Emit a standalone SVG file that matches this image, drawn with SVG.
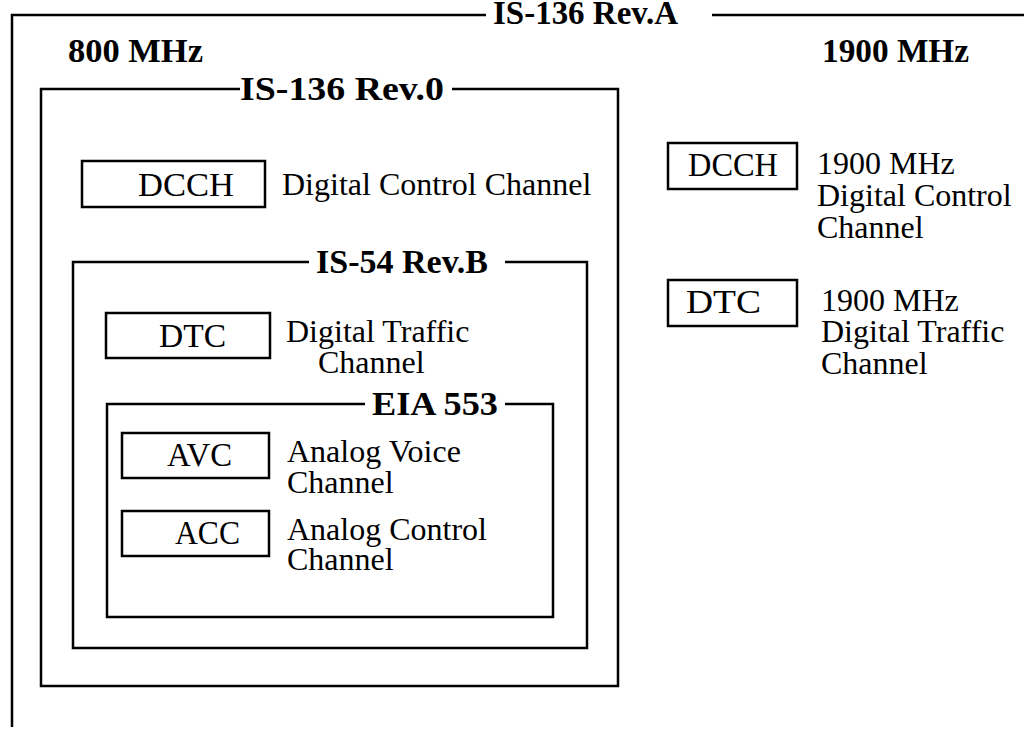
<svg xmlns="http://www.w3.org/2000/svg" width="1024" height="729" viewBox="0 0 1024 729">
  <style>
    .frame { fill: none; stroke: #000; stroke-width: 2.5; }
    .box { fill: none; stroke: #000; stroke-width: 2.5; }
    .title { font-family: "Liberation Serif", "DejaVu Serif", serif; font-weight: bold; font-size: 33px; fill: #000; }
    .lbl { font-family: "Liberation Serif", "DejaVu Serif", serif; font-size: 32px; fill: #000; }
    .code { font-family: "Liberation Serif", "DejaVu Serif", serif; font-size: 33px; fill: #000; }
  </style>
  <rect width="1024" height="729" fill="#fff"/>

  <!-- IS-136 Rev.A outer frame (open on the right and bottom) -->
  <g id="rev-a">
    <path class="frame" d="M12,727 V15 H486 M712,15 H1024"/>
    <text class="title" x="493" y="24" textLength="185" lengthAdjust="spacingAndGlyphs">IS-136 Rev.A</text>
    <text class="title" x="68" y="62" textLength="135" lengthAdjust="spacingAndGlyphs">800 MHz</text>
    <text class="title" x="822" y="62" textLength="147" lengthAdjust="spacingAndGlyphs">1900 MHz</text>
  </g>

  <!-- IS-136 Rev.0 -->
  <g id="rev-0">
    <path class="frame" d="M240,89 H41 V686 H618 V89 H452"/>
    <text class="title" x="240" y="100" font-size="34" textLength="204" lengthAdjust="spacingAndGlyphs">IS-136 Rev.0</text>
  </g>

  <g id="dcch-800">
    <rect class="box" x="82" y="161" width="183" height="46"/>
    <text class="code" x="138" y="196" textLength="96" lengthAdjust="spacingAndGlyphs">DCCH</text>
    <text class="lbl" x="282" y="195">Digital Control Channel</text>
  </g>

  <!-- IS-54 Rev.B -->
  <g id="is54">
    <path class="frame" d="M309,262 H73 V648 H587 V262 H505"/>
    <text class="title" x="316" y="273" textLength="172" lengthAdjust="spacingAndGlyphs">IS-54 Rev.B</text>
  </g>

  <g id="dtc-800">
    <rect class="box" x="106" y="313" width="164" height="45"/>
    <text class="code" x="159" y="347" textLength="67" lengthAdjust="spacingAndGlyphs">DTC</text>
    <text class="lbl" x="286" y="342">Digital Traffic</text>
    <text class="lbl" x="318" y="373">Channel</text>
  </g>

  <!-- EIA 553 -->
  <g id="eia553">
    <path class="frame" d="M365,404 H107 V617 H553 V404 H505"/>
    <text class="title" x="372" y="415" textLength="126" lengthAdjust="spacingAndGlyphs">EIA 553</text>
  </g>

  <g id="avc">
    <rect class="box" x="122" y="433" width="147" height="45"/>
    <text class="code" x="167" y="466" textLength="65" lengthAdjust="spacingAndGlyphs">AVC</text>
    <text class="lbl" x="287" y="462">Analog Voice</text>
    <text class="lbl" x="287" y="493">Channel</text>
  </g>

  <g id="acc">
    <rect class="box" x="122" y="511" width="147" height="45"/>
    <text class="code" x="175" y="544" textLength="65" lengthAdjust="spacingAndGlyphs">ACC</text>
    <text class="lbl" x="287" y="540">Analog Control</text>
    <text class="lbl" x="287" y="570">Channel</text>
  </g>

  <!-- 1900 MHz channels -->
  <g id="dcch-1900">
    <rect class="box" x="668" y="143" width="129" height="46"/>
    <text class="code" x="688" y="176" textLength="90" lengthAdjust="spacingAndGlyphs">DCCH</text>
    <text class="lbl" x="817" y="174">1900 MHz</text>
    <text class="lbl" x="817" y="206">Digital Control</text>
    <text class="lbl" x="817" y="238">Channel</text>
  </g>

  <g id="dtc-1900">
    <rect class="box" x="668" y="280" width="129" height="46"/>
    <text class="code" x="686" y="313" textLength="75" lengthAdjust="spacingAndGlyphs">DTC</text>
    <text class="lbl" x="821" y="311">1900 MHz</text>
    <text class="lbl" x="821" y="342">Digital Traffic</text>
    <text class="lbl" x="821" y="374">Channel</text>
  </g>
</svg>
